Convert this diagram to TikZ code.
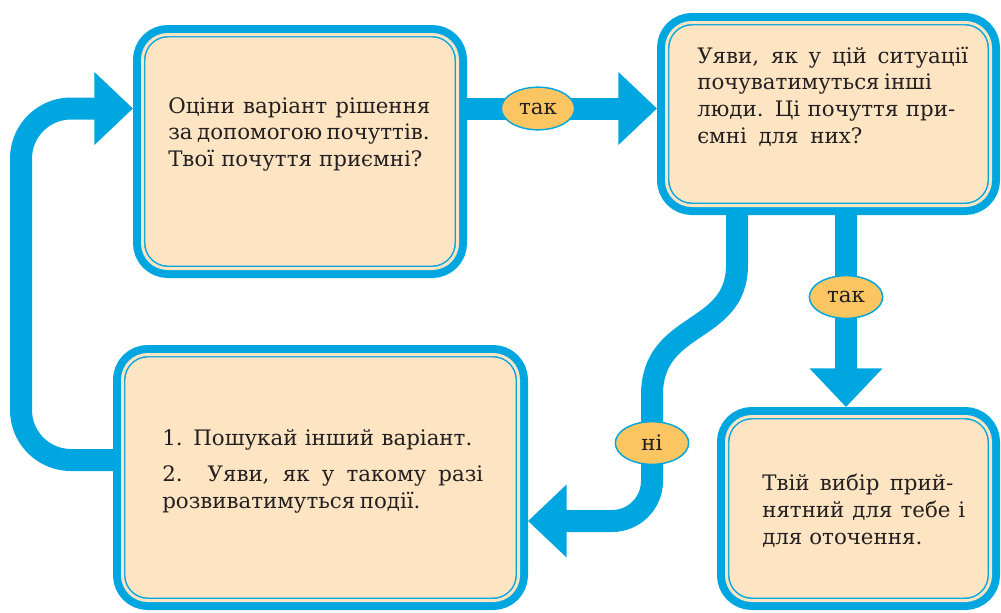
\documentclass[tikz,border=0pt]{standalone}
\usepackage{fontspec}
\setmainfont{DejaVu Serif}
\usetikzlibrary{arrows.meta,shapes.geometric,backgrounds}
\definecolor{flowblue}{RGB}{0,166,224}
\definecolor{panelcream}{RGB}{253,229,195}
\definecolor{tagorange}{RGB}{251,197,98}
\definecolor{inktext}{RGB}{35,31,32}
\begin{document}
\begin{tikzpicture}[x=0.75pt,y=-0.75pt,
  panel/.style={rectangle, rounded corners=19pt, fill=panelcream,
    draw=flowblue, line width=1.1pt, double=panelcream, double distance=2.25pt,
    preaction={draw=flowblue, line width=14.25pt},
    outer sep=7.1pt, inner sep=0pt},
  txt/.style={inner sep=0pt, anchor=base west, text=inktext,
    font=\fontsize{16}{20}\selectfont},
  tag/.style={ellipse, fill=tagorange, draw=flowblue, line width=1.1pt,
    minimum width=55pt, minimum height=32pt, inner sep=0pt, text=inktext,
    font=\fontsize{16}{20}\selectfont},
  band/.style={draw=flowblue, line width=16.5pt},
  tipped/.style={-{Triangle[width=53pt,length=29pt]}}]
\useasboundingbox (0,0) rectangle (1001,612);

% panels
\node[panel, minimum width=236.25pt, minimum height=175.5pt] (b1) at (300,151.5) {};
\node[panel, minimum width=243pt, minimum height=137.25pt] (b2) at (828.5,114) {};
\node[panel, minimum width=297pt, minimum height=184.5pt] (b3) at (320.5,477.5) {};
\node[panel, minimum width=198pt, minimum height=138pt] (b4) at (858.5,508.5) {};

% panel texts
\node[txt] (q1) at (168,113) {\begin{tabular}[t]{@{}l@{}}
\makebox[196.5pt][s]{Оціни варіант рішення}\\
\makebox[195pt][s]{за допомогою почуттів.}\\
\makebox[190.5pt][s]{Твої почуття приємні?}\end{tabular}};
\node[txt] (q2) at (697,63.3) {\begin{tabular}[t]{@{}l@{}}
\makebox[203.25pt][s]{Уяви, як у цій ситуації}\\
\makebox[174.75pt][s]{почуватимуться інші}\\
\makebox[193.5pt][s]{люди. Ці почуття при-}\\
\makebox[123.75pt][s]{ємні для них?}\end{tabular}};
\node[txt] (q3) at (162,445) {\begin{tabular}[t]{@{}l@{}}
\makebox[232.5pt][s]{1. Пошукай інший варіант.}\\[7.5pt]
\makebox[240.75pt][s]{2. Уяви, як у такому разі}\\
\makebox[189.75pt][s]{розвиватимуться події.}\end{tabular}};
\node[txt] (q4) at (762,490.7) {\begin{tabular}[t]{@{}l@{}}
\makebox[143.25pt][s]{Твій вибір прий-}\\
\makebox[152.25pt][s]{нятний для тебе і}\\
\makebox[120pt][s]{для оточення.}\end{tabular}};

% answer tags
\node[tag] (t1) at (538,108.5) {так};
\node[tag] (t2) at (846,297) {так};
\node[tag] (n1) at (652,443) {ні};

% bends of the connectors
\coordinate (lb) at (21,460);
\coordinate (lt) at (21,108.5);
\coordinate (sa) at (737,265);
\coordinate (sb) at (652,395);
\coordinate (sc) at (652,521);

\begin{scope}[on background layer]
\draw[band, tipped] (b1.east |- t1) -- (b2.west |- t1);
\draw[band, tipped, rounded corners=37.5pt] (b3.west |- lb) -- (lb) -- (lt) -- (b1.west |- lt);
\draw[band, tipped] (b2.south -| t2) -- (b4.north -| t2);
\draw[band, tipped] (b2.south -| sa) -- (sa) .. controls (737,335) and (652,320) .. (sb)
  [rounded corners=30pt] -- (sc) -- (b3.east |- sc);
\end{scope}
\end{tikzpicture}
\end{document}
